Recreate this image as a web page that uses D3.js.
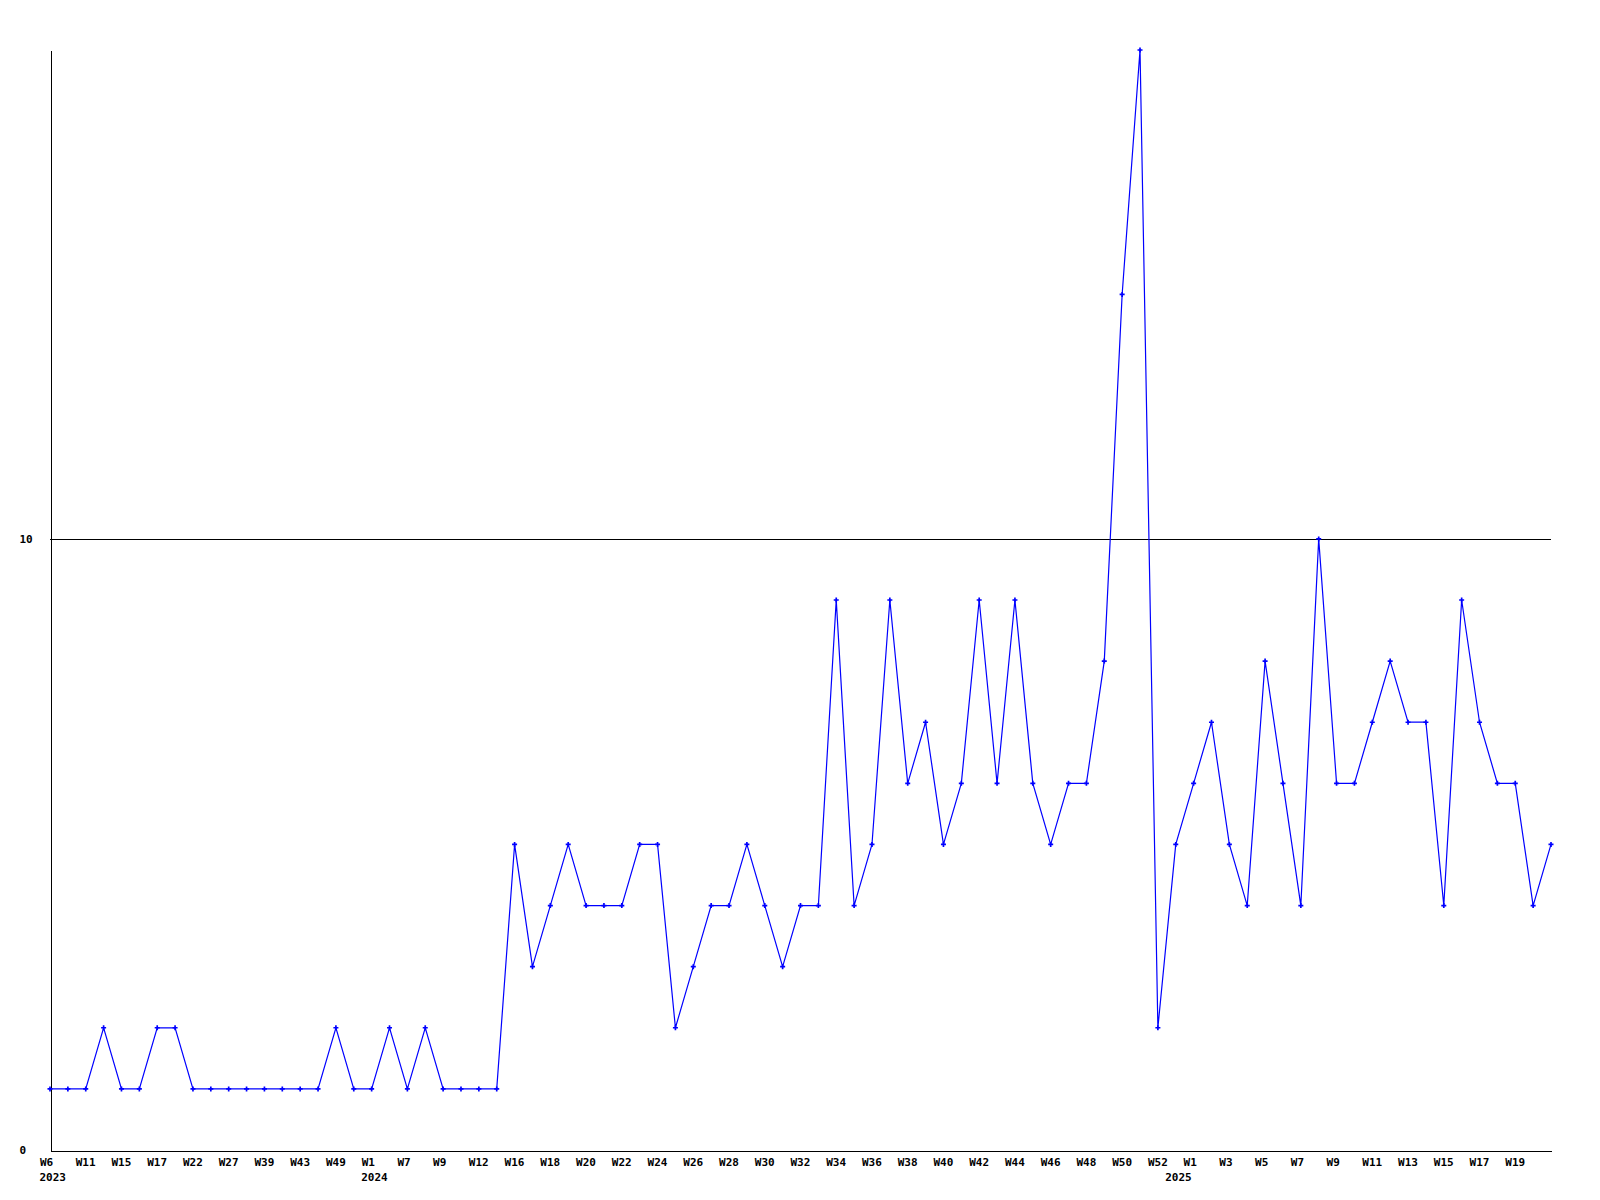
<!DOCTYPE html>
<html>
<head>
<meta charset="utf-8">
<script src="https://cdn.jsdelivr.net/npm/d3@7/dist/d3.min.js"></script>
<style>
  html, body { margin: 0; padding: 0; background: #fff; }
  svg { display: block; }
  text { font-family: "DejaVu Sans Mono", "Liberation Mono", monospace; font-weight: bold; font-size: 11px; fill: #000; }
</style>
</head>
<body>
<svg id="chart" width="1600" height="1200"></svg>
<script>
// ---- data ----
const weeks = [
  "W6","W8","W11","W13","W15","W16","W17","W19","W22","W24",
  "W27","W35","W39","W41","W43","W46","W49","W51",
  "W1","W5","W7","W8","W9","W10","W12","W14","W16","W17",
  "W18","W19","W20","W21","W22","W23","W24","W25","W26","W27",
  "W28","W29","W30","W31","W32","W33","W34","W35","W36","W37",
  "W38","W39","W40","W41","W42","W43","W44","W45","W46","W47",
  "W48","W49","W50","W51","W52",
  "W0","W1","W2","W3","W4","W5","W6","W7","W8","W9","W10",
  "W11","W12","W13","W14","W15","W16","W17","W18","W19","W20","W21"
];
const years = [
  2023,2023,2023,2023,2023,2023,2023,2023,2023,2023,2023,2023,2023,2023,2023,2023,2023,2023,
  2024,2024,2024,2024,2024,2024,2024,2024,2024,2024,2024,2024,2024,2024,2024,2024,2024,2024,
  2024,2024,2024,2024,2024,2024,2024,2024,2024,2024,2024,2024,2024,2024,2024,2024,2024,2024,
  2024,2024,2024,2024,2024,2024,2024,2024,2024,
  2025,2025,2025,2025,2025,2025,2025,2025,2025,2025,2025,2025,2025,2025,2025,2025,2025,2025,
  2025,2025,2025,2025
];
const values = [
  1,1,1,2,1,1,2,2,1,1,1,1,1,1,1,1,2,1,
  1,2,1,2,1,1,1,1,5,3,4,5,4,4,4,5,5,2,
  3,4,4,5,4,3,4,4,9,4,5,9,6,7,5,6,9,6,
  9,6,5,6,6,8,14,18,2,
  5,6,7,5,4,8,6,4,10,6,6,7,8,7,7,4,9,7,
  6,6,4,5
];
const yTicks = [0, 10];

// ---- layout ----
const mLeft = 50, mRight = 1551, mTop = 50, mBottom = 1150;
const svg = d3.select("#chart");
const idx = d3.range(values.length);

const x = d3.scalePoint().domain(idx).range([mLeft, mRight]);
const y = d3.scaleLinear().domain([0, 18]).range([mBottom, mTop]);

// grid line(s) at non-zero y ticks
svg.append("g")
  .selectAll("line")
  .data(yTicks.filter(d => d !== 0))
  .join("line")
  .attr("x1", mLeft).attr("x2", mRight)
  .attr("y1", d => Math.round(y(d)) + 0.5).attr("y2", d => Math.round(y(d)) + 0.5)
  .attr("stroke", "#000").attr("stroke-width", 1)
  .attr("shape-rendering", "crispEdges");

// y axis
const yAxis = svg.append("g")
  .attr("transform", `translate(${mLeft + 0.5},0)`)
  .call(d3.axisLeft(y).tickValues(yTicks).tickSize(0).tickSizeOuter(0).tickFormat(d3.format("d")));
yAxis.attr("font-family", null).attr("font-size", null);
yAxis.select(".domain").attr("stroke", "#000").attr("shape-rendering", "crispEdges");
yAxis.selectAll(".tick text")
  .attr("x", -31).attr("dy", "0.35em")
  .attr("text-anchor", "start");

// x axis (every other week labelled; the last point has no label)
const xAxis = svg.append("g")
  .attr("transform", `translate(0,${mBottom + 0.5})`)
  .call(d3.axisBottom(x)
    .tickValues(idx.filter(i => i % 2 === 0 && i < idx.length - 1))
    .tickSize(0).tickSizeOuter(0)
    .tickFormat(i => weeks[i]));
xAxis.attr("font-family", null).attr("font-size", null);
xAxis.select(".domain").attr("stroke", "#000").attr("shape-rendering", "crispEdges");
xAxis.selectAll(".tick text")
  .attr("text-anchor", "start")
  .attr("x", -10.5)
  .attr("y", 15.5)
  .attr("dy", null);

// year labels at first point of each year
const yearStarts = idx.filter(i => i === 0 || years[i] !== years[i - 1]);
svg.append("g")
  .selectAll("text")
  .data(yearStarts)
  .join("text")
  .attr("x", i => x(i) - 10.5)
  .attr("y", mBottom + 31)
  .text(i => years[i]);

// line
const line = d3.line().x(i => x(i)).y(i => y(values[i]));
svg.append("path")
  .datum(idx)
  .attr("d", line)
  .attr("fill", "none")
  .attr("stroke", "#0000ff")
  .attr("stroke-width", 1.2);

// markers
svg.append("g")
  .selectAll("path")
  .data(idx)
  .join("path")
  .attr("transform", i => `translate(${x(i)},${y(values[i])})`)
  .attr("d", d3.symbol().type(d3.symbolCross).size(14))
  .attr("fill", "#0000ff");
</script>
</body>
</html>
